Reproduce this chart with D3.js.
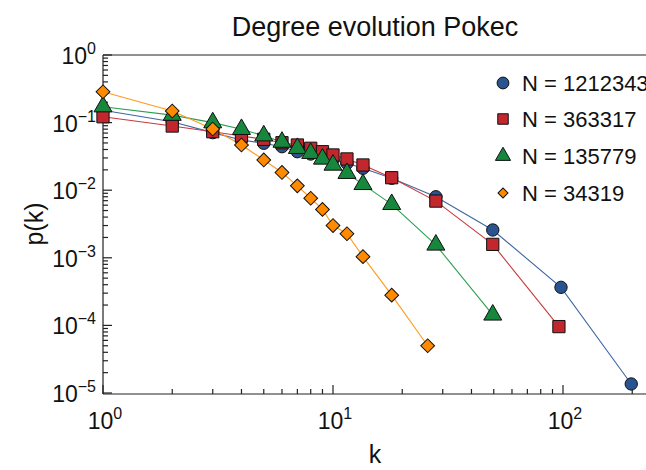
<!DOCTYPE html>
<html><head><meta charset="utf-8">
<script src="https://cdn.jsdelivr.net/npm/d3@7/dist/d3.min.js"></script>
<style>body{margin:0;background:#fff}svg{display:block}text{font-family:"Liberation Sans",Arial,sans-serif;fill:#111}</style>
</head><body><svg id="c" width="646" height="470"></svg>
<script>
const seriesNames = ["N = 1212343", "N = 363317", "N = 135779", "N = 34319"];
const colors = ["#2a5490", "#c1272d", "#16873c", "#ff8a00"];
const lineColors = ["#3f67a0", "#c8393d", "#2aa050", "#ff9a20"];
const symbols = ["circle", "square", "triangle", "diamond"];

const kBlue = [1,2,3,4,5,6,7,8,9,10,11.5,13.5,18,28,49.5,98,198];
const pBlue = [0.152,0.103,0.071,0.0553,0.0494,0.044,0.0371,0.0343,0.0307,0.028,0.025,0.0211,0.015,0.0080,0.00258,0.000366,0.0000136];
const kRed = [1,2,3,4,5,6,7,8,9,10,11.5,13.5,18,28,49.5,96];
const pRed = [0.122,0.089,0.0733,0.0634,0.0566,0.0504,0.0466,0.0417,0.0371,0.0332,0.029,0.0236,0.0153,0.0069,0.00158,0.000096];
const kGreen = [1,2,3,4,5,6,7,8,9,10,11.5,13.5,18,28,49.5];
const pGreen = [0.172,0.129,0.1,0.0796,0.064,0.0515,0.0417,0.0352,0.029,0.0236,0.0178,0.0122,0.00618,0.00155,0.000143];
const kOrange = [1,2,3,4,5,6,7,8,9,10,11.5,13.5,18,25.8];
const pOrange = [0.286,0.1485,0.0804,0.0466,0.028,0.0183,0.0116,0.0076,0.0052,0.0030,0.00227,0.00104,0.00028,0.00005];

const xDecades = [0,1,2];
const yDecades = [0,-1,-2,-3,-4,-5];

const series = [
  {k:kBlue,p:pBlue},{k:kRed,p:pRed},{k:kGreen,p:pGreen},{k:kOrange,p:pOrange}
];

const svg = d3.select("#c");
const L=103, R=646, T=55, B=393;
const x = d3.scaleLog().domain([1, Math.pow(10,(R-L)/230)]).range([L,R]);
const y = d3.scaleLog().domain([1e-5,1]).range([B,T]);

svg.append("text").attr("x",375).attr("y",36).attr("text-anchor","middle").attr("font-size",27).text("Degree evolution Pokec");
svg.append("text").attr("x",375).attr("y",463).attr("text-anchor","middle").attr("font-size",25).text("k");
svg.append("text").attr("transform","translate(43,224) rotate(-90)").attr("text-anchor","middle").attr("font-size",25).text("p(k)");

const axisG = svg.append("g").attr("stroke","#222").attr("stroke-width",1.2);
axisG.append("line").attr("x1",L).attr("x2",L).attr("y1",T).attr("y2",B+1);
axisG.append("line").attr("x1",L).attr("x2",R).attr("y1",T).attr("y2",T);
axisG.append("line").attr("x1",L).attr("x2",R).attr("y1",B+1).attr("y2",B+1);

const [xd0,xd1]=x.domain();
const xMinor=[], xMajor=[];
for(let e=0;e<=3;e++){for(let m=1;m<10;m++){const v=m*Math.pow(10,e); if(v>=xd0&&v<=xd1){(m===1?xMajor:xMinor).push(v);}}}
axisG.selectAll(".xmaj").data(xMajor).join("line").attr("x1",d=>x(d)).attr("x2",d=>x(d)).attr("y1",B+1).attr("y2",B-8);
axisG.selectAll(".xmin").data(xMinor).join("line").attr("x1",d=>x(d)).attr("x2",d=>x(d)).attr("y1",B+1).attr("y2",B-4);
const yMinor=[], yMajor=[];
for(let e=-5;e<=0;e++){for(let m=1;m<10;m++){const v=m*Math.pow(10,e); if(v>=1e-5*0.999&&v<=1.0001){(m===1?yMajor:yMinor).push(v);}}}
axisG.selectAll(".ymaj").data(yMajor).join("line").attr("y1",d=>y(d)).attr("y2",d=>y(d)).attr("x1",L).attr("x2",L+9);
axisG.selectAll(".ymin").data(yMinor).join("line").attr("y1",d=>y(d)).attr("y2",d=>y(d)).attr("x1",L).attr("x2",L+5);

const fmtExp = e => e<0 ? "\u2212"+(-e) : ""+e;
xDecades.forEach(e=>{
  const t=svg.append("text").attr("x",x(Math.pow(10,e))+2).attr("y",429).attr("text-anchor","middle").attr("font-size",23);
  t.append("tspan").text("10");
  t.append("tspan").attr("dy",-10).attr("font-size",16).text(fmtExp(e));
});
yDecades.forEach(e=>{
  const t=svg.append("text").attr("x",96).attr("y",y(Math.pow(10,e))+9).attr("text-anchor","end").attr("font-size",23);
  t.append("tspan").text("10");
  t.append("tspan").attr("dy",-10).attr("font-size",16).text(fmtExp(e));
});

const symType = {circle:d3.symbolCircle,square:d3.symbolSquare,triangle:d3.symbolTriangle,diamond:d3.symbolSquare};
const symRot = {circle:0,square:0,triangle:0,diamond:45};
const symSize = {circle:120,square:150,triangle:140,diamond:95};

const line = d3.line().x(d=>x(d[0])).y(d=>y(d[1]));
const plot = svg.append("g");
series.forEach((s,i)=>{
  const pts = s.k.map((k,j)=>[k,s.p[j]]);
  plot.append("path").datum(pts).attr("d",line).attr("fill","none").attr("stroke",lineColors[i]).attr("stroke-width",1.1);
});
series.forEach((s,i)=>{
  const pts = s.k.map((k,j)=>[k,s.p[j]]);
  const sy = symbols[i];
  plot.selectAll(null).data(pts).join("path")
    .attr("transform",d=>`translate(${x(d[0])},${y(d[1])}) rotate(${symRot[sy]})`)
    .attr("d",d3.symbol().type(symType[sy]).size(symSize[sy]))
    .attr("fill",colors[i]).attr("stroke","#111").attr("stroke-width",1);
});

const legY=[83,119,156,193];
const legSize = {circle:110,square:110,triangle:100,diamond:50};
seriesNames.forEach((n,i)=>{
  const sy = symbols[i];
  svg.append("path").attr("transform",`translate(503,${legY[i]}) rotate(${symRot[sy]})`)
    .attr("d",d3.symbol().type(symType[sy]).size(legSize[sy]))
    .attr("fill",colors[i]).attr("stroke","#111").attr("stroke-width",1);
  svg.append("text").attr("x",522).attr("y",legY[i]+8).attr("font-size",22).text(n);
});
</script></body></html>
